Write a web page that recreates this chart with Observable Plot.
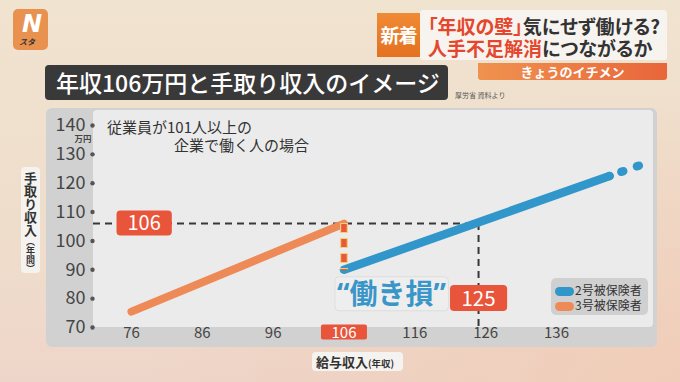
<!DOCTYPE html>
<html><head><meta charset="utf-8">
<script src="https://cdn.jsdelivr.net/npm/d3@7"></script>
<script src="https://cdn.jsdelivr.net/npm/@observablehq/plot@0.6"></script>
<style>
html,body{margin:0;padding:0;}
body{width:680px;height:382px;overflow:hidden;font-family:"Noto Sans CJK JP","Noto Sans",sans-serif;}
#stage{position:relative;width:680px;height:382px;overflow:hidden;
 background:radial-gradient(ellipse at 100% 100%, #f0cdb8 0%, rgba(240,205,184,0) 55%),
            linear-gradient(to bottom, #f0e3cf 0%, #efdccb 70%, #eed5c9 100%);}
.abs{position:absolute;}
#logo{left:13px;top:9px;width:35px;height:41px;background:#e9914f;border-radius:5px;}
#logo .n{position:absolute;left:9px;top:1px;font:italic bold 24px "DejaVu Sans",sans-serif;color:#fff;}
#logo .s{position:absolute;left:6px;top:27px;font:italic bold 8px "Noto Sans CJK JP";color:#333;}
#news{left:420px;top:10px;width:247px;height:50px;background:rgba(247,245,242,0.93);border-radius:3px;}
#shin{left:377px;top:13px;width:43px;height:44px;background:linear-gradient(#f08a35,#e4711f);color:#fff;
 font:bold 19px "Noto Sans CJK JP";line-height:44px;text-align:center;letter-spacing:-1px;}
.hl{left:428px;font:bold 19px "Noto Sans CJK JP";color:#333;white-space:nowrap;line-height:19px;height:19px;font-feature-settings:"palt";}
.red{color:#e5472e;}
#ichi{left:478px;top:63px;width:189px;height:17px;background:linear-gradient(90deg,#f0924f,#e8663b);color:#fff;
 font:bold 13px "Noto Sans CJK JP";line-height:17px;text-align:center;border-radius:0 0 3px 3px;}
#title{left:45px;top:65px;width:403px;height:35px;background:#3a3939;border-radius:4px;color:#fff;
 font:500 23px "Noto Sans CJK JP";line-height:35px;padding-left:11px;box-sizing:border-box;white-space:nowrap;}
#src{left:455px;top:90px;font:7px "Noto Sans CJK JP";color:#555;}
#outer{left:46px;top:108px;width:611px;height:239px;background:#d1d1d1;border-radius:6px;}
#inner{left:93px;top:110px;width:560px;height:217px;background:#ebebeb;border-radius:4px;}
.sub{font:15px "Noto Sans CJK JP";color:#333;white-space:nowrap;line-height:18px;}
#ylab{left:21px;top:167px;width:19px;height:106px;background:#f5f3f0;border-radius:4px;writing-mode:vertical-rl;
 font:bold 13px "Noto Sans CJK JP";color:#333;line-height:19px;box-sizing:border-box;padding-top:5px;}
#ylab small{font-size:9px;font-weight:bold;}
#xlab{left:312px;top:352px;width:91px;height:19px;background:#f5f3f0;border-radius:4px;
 font:bold 13px "Noto Sans CJK JP";color:#333;line-height:19px;padding-left:4px;box-sizing:border-box;white-space:nowrap;}
#xlab small{font-size:9.5px;font-weight:bold;}
#legend{left:551px;top:278px;width:97px;height:37px;background:#d0d0d0;border-radius:5px;}
.li{position:absolute;left:4px;font:12px "Noto Sans CJK JP";color:#333;white-space:nowrap;line-height:15px;}
.sw{display:inline-block;width:19px;height:9px;border-radius:5px;vertical-align:-1px;margin-right:1px;}
#chart{position:absolute;left:0;top:0;}
</style></head>
<body><div id="stage">
 <div id="logo" class="abs"><span class="n">N</span><span class="s">スタ</span></div>
 <div id="news" class="abs"></div>
 <div id="shin" class="abs">新着</div>
 <div class="abs hl" style="top:16px"><span class="red">「年収の壁」</span>気にせず働ける?</div>
 <div class="abs hl" style="top:38px"><span class="red">人手不足解消</span>につながるか</div>
 <div id="ichi" class="abs">きょうのイチメン</div>
 <div id="title" class="abs">年収106万円と手取り収入のイメージ</div>
 <div id="src" class="abs">厚労省 資料より</div>
 <div id="outer" class="abs"></div>
 <div id="inner" class="abs"></div>
 <div id="chart"></div>
 <div class="abs sub" style="left:107px;top:118px">従業員が101人以上の</div>
 <div class="abs sub" style="left:174px;top:136px">企業で働く人の場合</div>
 <div id="ylab" class="abs">手取り収入<small>（年間）</small></div>
 <div id="xlab" class="abs">給与収入<small>(年収)</small></div>
 <div id="legend" class="abs">
  <div class="li" style="top:4px"><span class="sw" style="background:#3196c9"></span>2号被保険者</div>
  <div class="li" style="top:19px"><span class="sw" style="background:#ee8a57"></span>3号被保険者</div>
 </div>
</div>
<script>
// --- data ---
const xTicks = [76, 86, 96, 106, 116, 126, 136];
const yTicks = [70, 80, 90, 100, 110, 120, 130, 140];
// 3号被保険者 (orange)
const salary3 = [76, 106];
const takeHome3 = [75.5, 106];
// 2号被保険者 (blue)
const salary2 = [106, 143.5];
const takeHome2 = [90, 122.5];
const salary2Ext = [143.5, 148];
const takeHome2Ext = [122.5, 126.4];
// thresholds
const wallSalary = 106;     // 年収106万円
const wallTakeHome = 106;
const dropTakeHome = 90;
const recoverSalary = 125;  // 手取りが戻る年収
const lossLabel = ["“働き損”"];

const line3 = salary3.map((x, i) => ({x, y: takeHome3[i]}));
const line2 = salary2.map((x, i) => ({x, y: takeHome2[i]}));
const line2ext = salary2Ext.map((x, i) => ({x, y: takeHome2Ext[i]}));

const xDomain = [70.64, 149.7];
const yDomain = [70, 145.2];

const chart = Plot.plot({
  width: 680, height: 382,
  marginLeft: 93, marginRight: 27, marginTop: 110, marginBottom: 55,
  x: {domain: xDomain, axis: null},
  y: {domain: yDomain, axis: null},
  style: {background: "transparent", fontFamily: '"Noto Sans CJK JP", sans-serif', overflow: "visible"},
  marks: [
    // dashed guides
    Plot.ruleY([wallTakeHome], {x1: xDomain[0], x2: recoverSalary, stroke: "#383838", strokeWidth: 2, strokeDasharray: "7,5"}),
    Plot.ruleX([recoverSalary], {y1: wallTakeHome, y2: yDomain[0], stroke: "#383838", strokeWidth: 2, strokeDasharray: "7,5"}),
    // series
    Plot.line(line3, {x: "x", y: "y", stroke: "#ee8a57", strokeWidth: 8, strokeLinecap: "round"}),
    Plot.line(line2, {x: "x", y: "y", stroke: "#3196c9", strokeWidth: 8.5, strokeLinecap: "round"}),
    Plot.line(line2ext, {x: "x", y: "y", stroke: "#3196c9", strokeWidth: 8.5, strokeLinecap: "round", strokeDasharray: "0,12.5,2,14.5,2,60"}),
    // drop (働き損)
    Plot.ruleX([wallSalary], {y1: wallTakeHome, y2: dropTakeHome, stroke: "#f4cf7a", strokeWidth: 8, strokeDasharray: "10,5"}),
    Plot.ruleX([wallSalary], {y1: wallTakeHome, y2: dropTakeHome, stroke: "#e8583a", strokeWidth: 5.5, strokeDasharray: "8,7", dy: 1}),
    // y axis
    Plot.dot(yTicks, {y: d => d, frameAnchor: "left", dx: -1, r: 2.2, fill: "#555", stroke: null}),
    Plot.text(yTicks, {y: d => d, frameAnchor: "left", dx: -8, textAnchor: "end", fontSize: 18, fill: "#454545"}),
    Plot.text([140], {y: d => d, frameAnchor: "left", dx: -19, dy: 14, text: () => "万円", fontSize: 8.5, fill: "#454545", fontWeight: "bold"}),
    // x axis
    Plot.text(xTicks.filter(d => d !== wallSalary), {x: d => d, frameAnchor: "bottom", dy: 10, fontSize: 15, fill: "#454545"}),
    Plot.text([wallSalary], {x: d => d, frameAnchor: "bottom", dy: 10, fontSize: 15, fill: "white", className: "box-xt"}),
    // highlight labels
    Plot.text([wallTakeHome], {y: d => d, frameAnchor: "left", dx: 34, fontSize: 20, fill: "white", className: "box-y"}),
    Plot.text([recoverSalary], {x: d => d, frameAnchor: "bottom", dy: -22, fontSize: 20.5, fill: "white", className: "box-125"}),
    Plot.text(lossLabel, {x: () => wallSalary, y: () => dropTakeHome, text: d => d, textAnchor: "start", dx: -7, dy: 25,
      fontSize: 28, fontWeight: "bold", fill: "#3a95c8", fontFamily: '"Noto Sans","Noto Sans CJK JP",sans-serif', className: "box-loss"})
  ]
});
document.getElementById("chart").append(chart);

function boxUp(cls, o) {
  chart.querySelectorAll(`g.${cls} text`).forEach(t => {
    const b = t.getBBox();
    const r = document.createElementNS("http://www.w3.org/2000/svg", "rect");
    const cy = b.y + b.height / 2 + o.oy;
    r.setAttribute("x", b.x - o.px);
    r.setAttribute("y", cy - o.h / 2);
    r.setAttribute("width", b.width + 2 * o.px);
    r.setAttribute("height", o.h);
    r.setAttribute("rx", o.rx);
    r.setAttribute("fill", o.fill);
    if (o.stroke) { r.setAttribute("stroke", o.stroke); r.setAttribute("stroke-width", 1); }
    const tr = t.getAttribute("transform");
    if (tr) r.setAttribute("transform", tr);
    t.parentNode.insertBefore(r, t);
  });
}
boxUp("box-xt", {px: 10.5, h: 15, oy: 1, rx: 2, fill: "#e8553b"});
boxUp("box-y", {px: 11, h: 25, oy: 1.5, rx: 4, fill: "#e8553b"});
boxUp("box-125", {px: 11.5, h: 26, oy: 1.5, rx: 4, fill: "#e8553b"});
boxUp("box-loss", {px: 2, h: 34, oy: 1, rx: 4, fill: "#eeeeee", stroke: "#dedede"});
</script>
</body></html>
